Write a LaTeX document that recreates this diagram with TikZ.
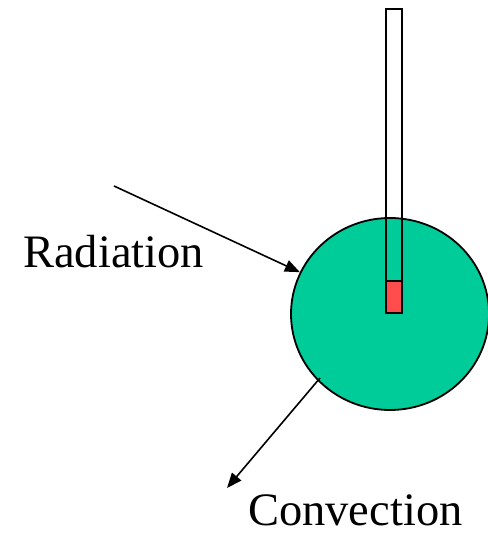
\documentclass[tikz,border=0pt]{standalone}
\usepackage{xcolor}
\usepackage{fontspec}
\setmainfont{Liberation Serif}
\usepackage{tikz}
\usetikzlibrary{positioning, arrows.meta, shapes.geometric}
\definecolor{bodygreen}{HTML}{00CC99}
\definecolor{bulbred}{HTML}{FF4D4D}
\tikzset{
  heatarrow/.style={line width=1.6pt, -{Triangle[length=15pt, width=12pt]}},
  heatlabel/.style={inner sep=0pt, anchor=base west, font=\fontsize{46.5}{50}\selectfont}
}

\begin{document}
\begin{tikzpicture}[x=1pt, y=1pt]
  \useasboundingbox (0,0) rectangle (487,534);
  \node[ellipse, draw, line width=1.8pt, fill=bodygreen, minimum width=198pt, minimum height=192pt, inner sep=0pt] (body) at (390,220) {};
  \node[rectangle, draw, line width=1.8pt, minimum width=16pt, minimum height=304pt, inner sep=0pt, anchor=south] (tube) at (394,220) {};
  \node[rectangle, draw, line width=1.8pt, fill=bulbred, minimum width=16pt, minimum height=32pt, inner sep=0pt, anchor=south] (bulb) at (tube.south) {};
  % radiation in, convection out
  \coordinate (radstart) at (114,348);
  \coordinate (convstart) at (320,156);
  \coordinate (convend) at (227,46);
  \draw[heatarrow] (radstart) -- (body);
  \draw[heatarrow] (convstart) -- (convend);
  \node[heatlabel] (radlabel) at (23,266) {Radiation};
  \node[heatlabel] (convlabel) at (248,9) {Convection};
\end{tikzpicture}
\end{document}
